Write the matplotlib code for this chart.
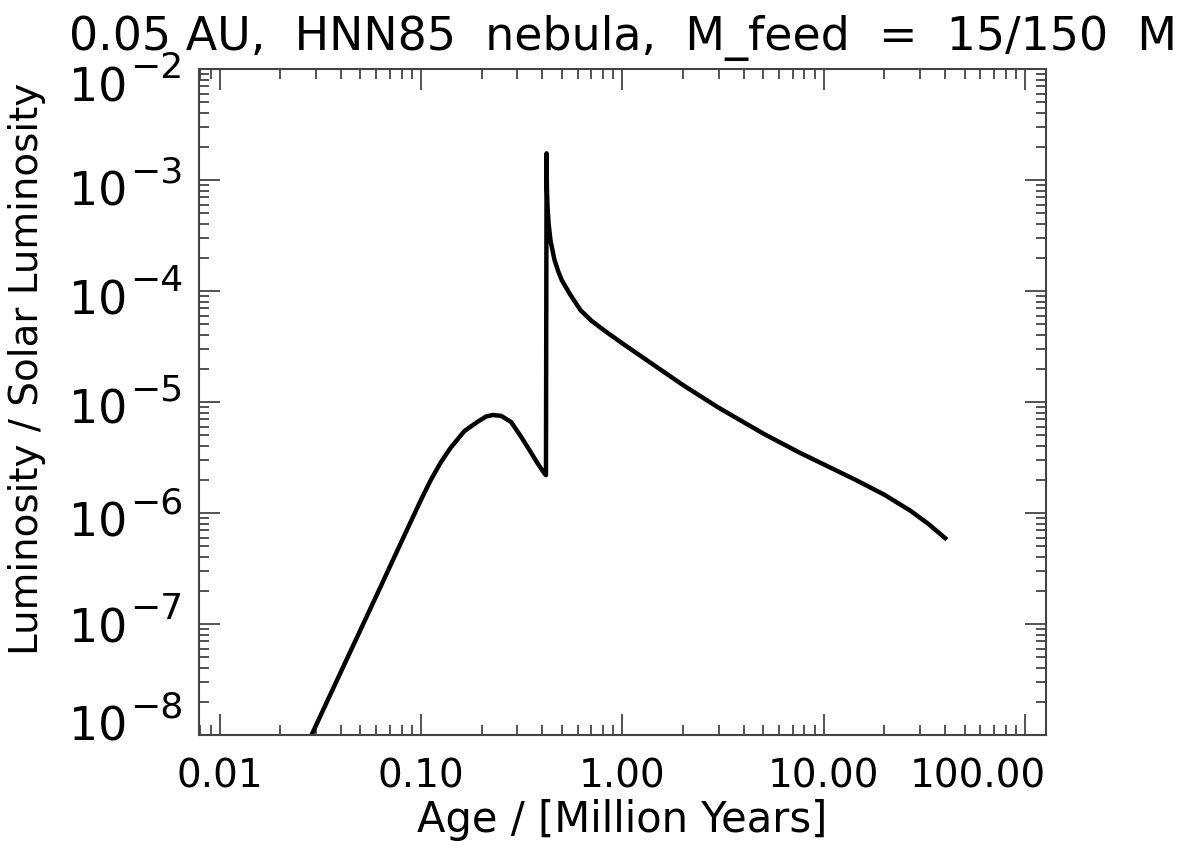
import numpy as np
import matplotlib
matplotlib.use("Agg")
import matplotlib.pyplot as plt
import matplotlib.transforms as mtransforms
from matplotlib.ticker import FixedLocator, FixedFormatter, NullFormatter

plt.rcParams['font.family'] = ['DejaVu Sans']

# luminosity history (age in Myr, L / L_sun)
age_myr = [0.025, 0.04, 0.06, 0.08, 0.09, 0.10, 0.112, 0.125, 0.14, 0.164,
           0.19, 0.21, 0.227, 0.25, 0.28, 0.313, 0.345, 0.379, 0.405, 0.417,
           0.42, 0.4205, 0.422, 0.425, 0.43, 0.44, 0.46, 0.48, 0.50, 0.55,
           0.62, 0.70, 0.80, 1.0, 2.0, 3.0, 5.0, 7.6, 10.0, 14.3,
           20.0, 26.9, 33.0, 40.1]
lum = [5.94e-9, 3.72e-8, 1.80e-7, 5.55e-7, 8.77e-7, 1.32e-6, 2.0e-6, 2.84e-6, 3.86e-6, 5.47e-6,
       6.6e-6, 7.4e-6, 7.64e-6, 7.5e-6, 6.6e-6, 4.9e-6, 3.7e-6, 2.8e-6, 2.34e-6, 2.19e-6,
       1.74e-3, 1.2e-3, 8.0e-4, 5.5e-4, 4.0e-4, 2.8e-4, 1.9e-4, 1.5e-4, 1.25e-4, 9.3e-5,
       6.7e-5, 5.42e-5, 4.5e-5, 3.37e-5, 1.42e-5, 8.9e-6, 5.2e-6, 3.49e-6, 2.74e-6, 2.0e-6,
       1.46e-6, 1.05e-6, 8.0e-7, 5.93e-7]

x_ticks = [0.01, 0.1, 1.0, 10.0, 100.0]
x_ticklabels = ['0.01', '0.10', '1.00', '10.00', '100.00']
y_ticks = [1e-8, 1e-7, 1e-6, 1e-5, 1e-4, 1e-3, 1e-2]
y_exponents = ['\u22128', '\u22127', '\u22126', '\u22125', '\u22124', '\u22123', '\u22122']
# vertical nudge of each y label in pixels (IDL packs them slightly inward)
y_label_shift = [18, 5, 0, 2, 0, -2, -9]

fig = plt.figure(figsize=(11.86, 8.52), dpi=100)
ax = fig.add_axes([0.1678, 0.1373, 0.882 - 0.1678, 0.919 - 0.1373])

ax.plot(age_myr, lum, color='black', linewidth=3.2, solid_joinstyle='round')

ax.set_xscale('log')
ax.set_yscale('log')
ax.set_xlim(0.00789, 127)
ax.set_ylim(1e-8, 1e-2)

decades_x = [0.001, 0.01, 0.1, 1.0, 10.0]
decades_y = [1e-9, 1e-8, 1e-7, 1e-6, 1e-5, 1e-4, 1e-3]
minor_x = [d * k for d in decades_x for k in range(2, 10)]
minor_y = [d * k for d in decades_y for k in range(2, 10)]

ax.xaxis.set_major_locator(FixedLocator(x_ticks))
ax.xaxis.set_major_formatter(FixedFormatter(x_ticklabels[:-1] + ['']))
ax.xaxis.set_minor_locator(FixedLocator(minor_x))
ax.xaxis.set_minor_formatter(NullFormatter())
ax.yaxis.set_major_locator(FixedLocator(y_ticks))
ax.yaxis.set_major_formatter(NullFormatter())
ax.yaxis.set_minor_locator(FixedLocator(minor_y))
ax.yaxis.set_minor_formatter(NullFormatter())

ax.tick_params(which='both', direction='in', top=True, right=True, color='#444444', width=1.3)
ax.tick_params(which='major', length=15, labelsize=28, pad=16)
ax.tick_params(which='minor', length=7.5)
for s in ax.spines.values():
    s.set_color('#444444')
    s.set_linewidth(1.5)

# last x label kept inside the frame, right edge on the right axis
t_last = mtransforms.offset_copy(ax.transAxes, fig=fig, x=0, y=-16, units='points')
ax.text(1.0, 0.0, x_ticklabels[-1], transform=t_last, fontsize=28, ha='right', va='top')

# IDL style y labels: "10" with a large raised exponent
ytrans = ax.get_yaxis_transform()
for val, ex, dy in zip(y_ticks, y_exponents, y_label_shift):
    t_exp = mtransforms.offset_copy(ytrans, fig=fig, x=-16, y=dy, units='dots')
    ax.text(0, val, ex, transform=t_exp, fontsize=26, ha='right', va='baseline')
    t_base = mtransforms.offset_copy(ytrans, fig=fig, x=-72, y=dy - 23, units='dots')
    ax.text(0, val, '10', transform=t_base, fontsize=33, ha='right', va='baseline')

ax.set_xlabel('Age / [Million Years]', fontsize=30, va='center')
ax.xaxis.set_label_coords(0.5, -0.128)
ax.set_ylabel('Luminosity / Solar Luminosity', fontsize=28, va='center')
ax.yaxis.set_label_coords(-0.203, 0.55)
ax.set_title('0.05 AU,  HNN85  nebula,  M_feed  =  15/150  M', fontsize=33, pad=14)

fig.savefig('out.png', dpi=100)
